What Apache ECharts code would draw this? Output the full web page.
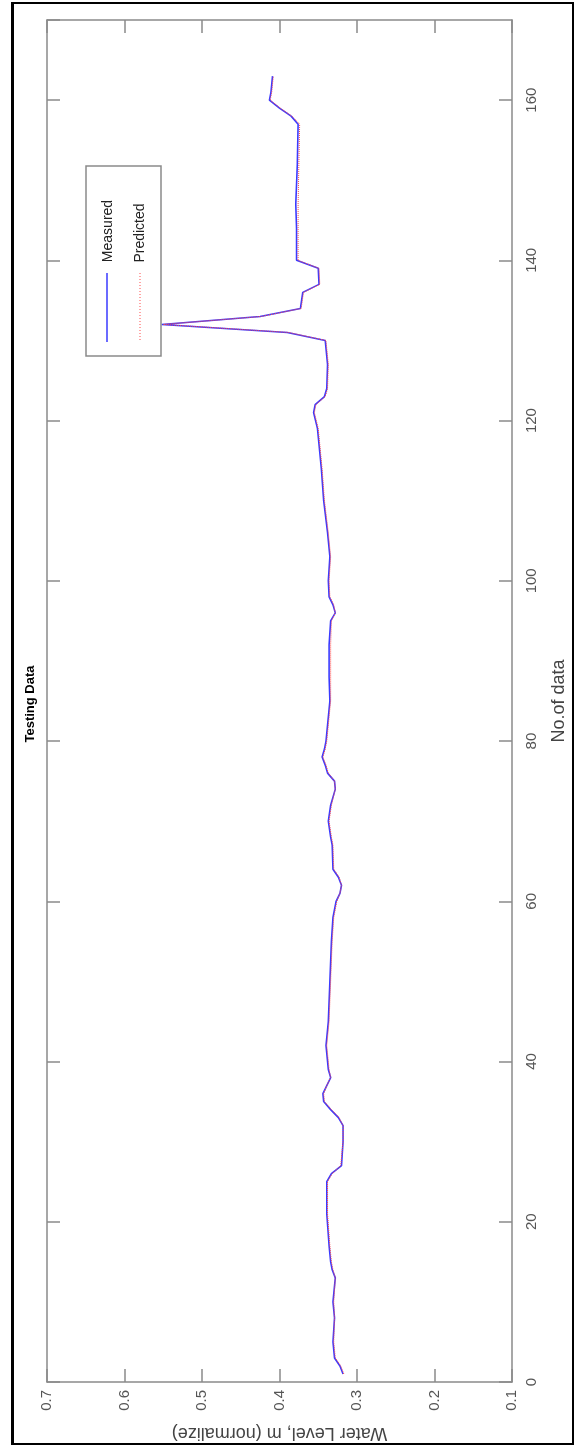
<!DOCTYPE html>
<html>
<head>
<meta charset="utf-8">
<script src="https://cdn.jsdelivr.net/npm/echarts@6/dist/echarts.min.js"></script>
<style>
  html, body { margin: 0; padding: 0; background: #fff; }
  #frame { position: absolute; left: 11px; top: 2px; width: 563px; height: 1443px; border: 2px solid #000; border-left-width: 3px; box-sizing: border-box; }
  #chart { position: absolute; left: 0; top: 0; width: 576px; height: 1447px; }
</style>
</head>
<body>
<div id="frame"></div>
<div id="chart"></div>
<script>
// sample number (drawn on the vertical axis, the figure is turned on its side)
var noOfData = [1, 2, 3, 5, 8, 10, 13, 14, 15, 17, 21, 25, 26, 27, 30, 32, 33, 34, 35, 36, 37, 38, 39, 42, 45,
  50, 55, 58, 60, 61, 62, 63, 64, 67, 68, 70, 72, 74, 75, 76, 77, 78, 79, 80, 82, 85, 88, 92, 95, 96, 97, 98,
  100, 103, 106, 110, 114, 117, 119, 121, 122, 123, 124, 127, 130, 131, 132, 133, 134, 136, 137, 139, 140,
  144, 147, 152, 157, 158, 159, 160, 161, 162, 163];

// water level, m (normalize)
var measured = [0.318, 0.322, 0.329, 0.331, 0.329, 0.331, 0.328, 0.332, 0.334, 0.336, 0.339, 0.339, 0.333, 0.320,
  0.318, 0.318, 0.324, 0.334, 0.343, 0.344, 0.339, 0.334, 0.337, 0.340, 0.337,
  0.335, 0.333, 0.331, 0.327, 0.322, 0.320, 0.324, 0.331, 0.332, 0.334, 0.337, 0.334, 0.328, 0.329, 0.338,
  0.341, 0.345, 0.342, 0.340, 0.338, 0.335, 0.336, 0.336, 0.334, 0.328, 0.331, 0.336,
  0.337, 0.335, 0.338, 0.343, 0.346, 0.349, 0.351, 0.356, 0.354, 0.342, 0.339, 0.338, 0.341, 0.390, 0.552,
  0.425, 0.373, 0.370, 0.349, 0.350, 0.378,
  0.378, 0.379, 0.377, 0.376, 0.385, 0.400, 0.413, 0.411, 0.410, 0.409];

var predicted = [0.317, 0.321, 0.328, 0.330, 0.329, 0.330, 0.328, 0.331, 0.333, 0.335, 0.338, 0.338, 0.332, 0.321,
  0.318, 0.318, 0.323, 0.333, 0.342, 0.343, 0.339, 0.334, 0.336, 0.339, 0.336,
  0.334, 0.332, 0.330, 0.326, 0.322, 0.320, 0.323, 0.330, 0.331, 0.333, 0.336, 0.333, 0.328, 0.329, 0.337,
  0.340, 0.344, 0.341, 0.339, 0.337, 0.334, 0.334, 0.334, 0.333, 0.328, 0.330, 0.335,
  0.336, 0.334, 0.337, 0.342, 0.345, 0.348, 0.350, 0.355, 0.353, 0.341, 0.338, 0.337, 0.340, 0.388, 0.550,
  0.423, 0.372, 0.369, 0.348, 0.349, 0.376,
  0.376, 0.376, 0.375, 0.374, 0.384, 0.399, 0.412, 0.410, 0.409, 0.408];

var levelTicks = [0.1, 0.2, 0.3, 0.4, 0.5, 0.6, 0.7];

var frameColor = '#8a8a8a';
var font = 'Liberation Sans, Arial, sans-serif';

function pairs(vals) {
  return vals.map(function (v, i) { return [v, noOfData[i]]; });
}

var levelAxis = {
  type: 'value',
  min: levelTicks[0],
  max: levelTicks[levelTicks.length - 1],
  interval: 0.1,
  inverse: true,
  splitLine: { show: false },
  axisLine: { show: true, onZero: false, lineStyle: { color: frameColor, width: 1.5 } },
  axisTick: { show: true, inside: true, length: 13, lineStyle: { color: frameColor, width: 1.5 } },
  axisLabel: { show: false }
};
var countAxis = {
  type: 'value',
  min: 0,
  max: 170,
  interval: 20,
  splitLine: { show: false },
  axisLine: { show: true, onZero: false, lineStyle: { color: frameColor, width: 1.5 } },
  axisTick: { show: true, inside: true, length: 13, lineStyle: { color: frameColor, width: 1.5 } },
  axisLabel: { show: false }
};

var chart = echarts.init(document.getElementById('chart'));
chart.setOption({
  animation: false,
  grid: { left: 47, right: 59, top: 20, bottom: 60, containLabel: false },
  xAxis: [
    Object.assign({}, levelAxis, {
      position: 'bottom',
      name: 'Water Level, m (normalize)',
      nameLocation: 'middle',
      nameGap: 42,
      nameRotate: 180,
      nameTextStyle: { fontFamily: font, fontSize: 18, color: '#444' },
      axisLabel: {
        show: true, rotate: 90, margin: 8, fontFamily: font, fontSize: 15, color: '#555',
        formatter: function (v) { return v.toFixed(1); }
      }
    }),
    Object.assign({}, levelAxis, { position: 'top' })
  ],
  yAxis: [
    Object.assign({}, countAxis, {
      position: 'right',
      name: 'No.of data',
      nameLocation: 'middle',
      nameGap: 38,
      nameRotate: 90,
      nameTextStyle: { fontFamily: font, fontSize: 18, color: '#444' },
      axisLabel: {
        show: true, rotate: 90, margin: 12, fontFamily: font, fontSize: 15, color: '#555',
        showMaxLabel: false
      }
    }),
    Object.assign({}, countAxis, { position: 'left' })
  ],
  series: [
    {
      name: 'Measured', type: 'line', xAxisIndex: 0, yAxisIndex: 0,
      showSymbol: false, data: pairs(measured),
      lineStyle: { color: '#3a3aff', width: 1.6 }
    },
    {
      name: 'Predicted', type: 'line', xAxisIndex: 0, yAxisIndex: 0,
      showSymbol: false, data: pairs(predicted),
      lineStyle: { color: '#ff4a4a', width: 1, type: 'dotted' }
    }
  ],
  graphic: [
    {
      type: 'text', x: 30, y: 704, rotation: Math.PI / 2,
      style: { text: 'Testing Data', fontFamily: font, fontSize: 13, fontWeight: 'bold', fill: '#000', align: 'center', verticalAlign: 'middle' }
    },
    {
      type: 'rect', shape: { x: 86, y: 166, width: 75, height: 190 },
      style: { fill: '#fff', stroke: frameColor, lineWidth: 1.5 }, z: 10
    },
    {
      type: 'line', shape: { x1: 107, y1: 273, x2: 107, y2: 342 },
      style: { stroke: '#3a3aff', lineWidth: 1.5 }, z: 11
    },
    {
      type: 'text', x: 108, y: 231, rotation: Math.PI / 2, z: 11,
      style: { text: 'Measured', fontFamily: font, fontSize: 14, fill: '#222', align: 'center', verticalAlign: 'middle' }
    },
    {
      type: 'line', shape: { x1: 140, y1: 273, x2: 140, y2: 342 },
      style: { stroke: '#ff4a4a', lineWidth: 1, lineDash: [1, 2] }, z: 11
    },
    {
      type: 'text', x: 140, y: 233, rotation: Math.PI / 2, z: 11,
      style: { text: 'Predicted', fontFamily: font, fontSize: 14, fill: '#222', align: 'center', verticalAlign: 'middle' }
    }
  ]
});
</script>
</body>
</html>
